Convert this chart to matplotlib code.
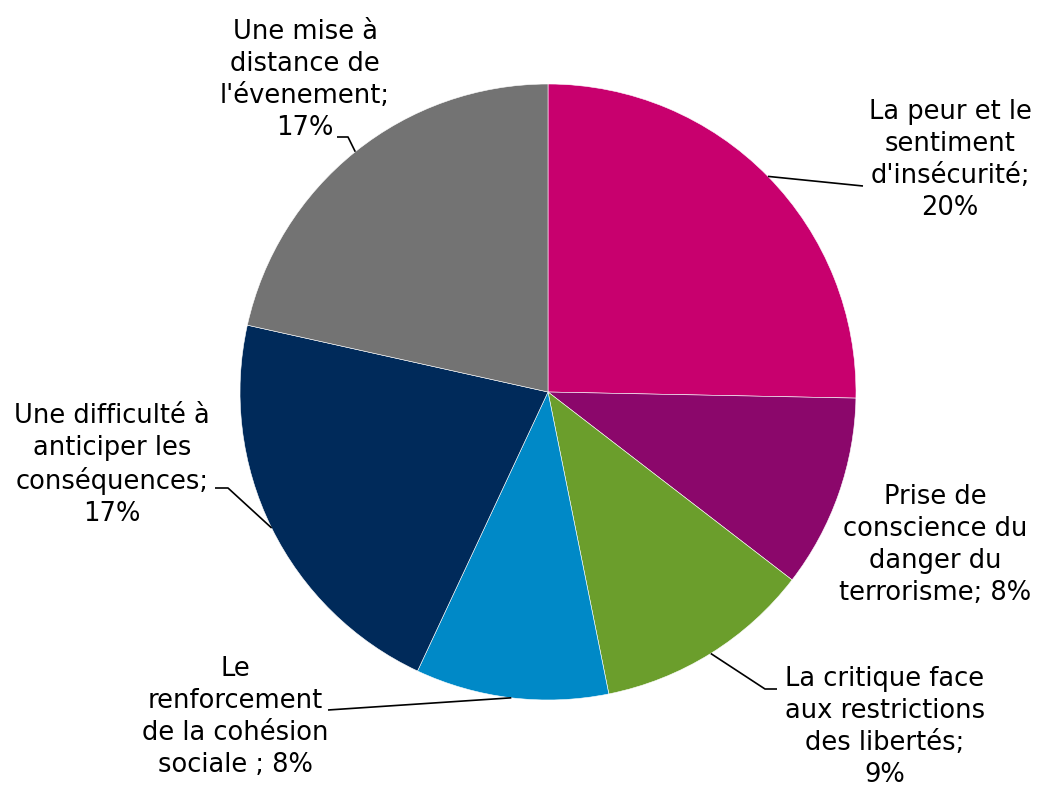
import numpy as np
import matplotlib.pyplot as plt

# Data
labels = [
    "La peur et le\nsentiment\nd'insécurité;\n20%",
    "Prise de\nconscience du\ndanger du\nterrorisme; 8%",
    "La critique face\naux restrictions\ndes libertés;\n9%",
    "Le\nrenforcement\nde la cohésion\nsociale ; 8%",
    "Une difficulté à\nanticiper les\nconséquences;\n17%",
    "Une mise à\ndistance de\nl'évenement;\n17%",
]
values = [20, 8, 9, 8, 17, 17]
colors = ["#C8006E", "#8B076B", "#6B9E2C", "#0089C7", "#002A5A", "#737373"]

# Layout in pixels: pie centre, radius, label centres and leader elbows
W, H = 1040, 793
cx, cy, R = 548, 392, 308
label_pos = [(950, 160), (935, 545), (885, 727), (235, 717), (112, 465), (305, 80)]
elbows = [
    [(863, 186)],
    None,
    [(765, 689), (777, 689)],
    [(328, 710)],
    [(228, 488), (215, 488)],
    [(348, 137), (337, 137)],
]


def to_data(px, py):
    return (px - cx) / R, (cy - py) / R


fig = plt.figure(figsize=(W / 100, H / 100), dpi=100)
ax = fig.add_axes([0, 0, 1, 1])

wedges, _ = ax.pie(values, colors=colors, startangle=90, counterclock=False,
                   radius=1, center=(0, 0),
                   wedgeprops=dict(edgecolor="white", linewidth=0.4))

ax.set_xlim(-cx / R, (W - cx) / R)
ax.set_ylim((cy - H) / R, cy / R)
ax.set_aspect("equal")
ax.axis("off")

for w, lab, pos, elb in zip(wedges, labels, label_pos, elbows):
    mid = np.deg2rad((w.theta1 + w.theta2) / 2)
    if elb is not None:
        pts = [(np.cos(mid), np.sin(mid))] + [to_data(*p) for p in elb]
        xs, ys = zip(*pts)
        ax.plot(xs, ys, color="black", linewidth=1.2, solid_capstyle="butt")
    tx, ty = to_data(*pos)
    ax.text(tx, ty, lab, ha="center", va="center", multialignment="center",
            fontsize=18.5, family="DejaVu Sans", linespacing=1.3)

fig.savefig("out.png", dpi=100)
